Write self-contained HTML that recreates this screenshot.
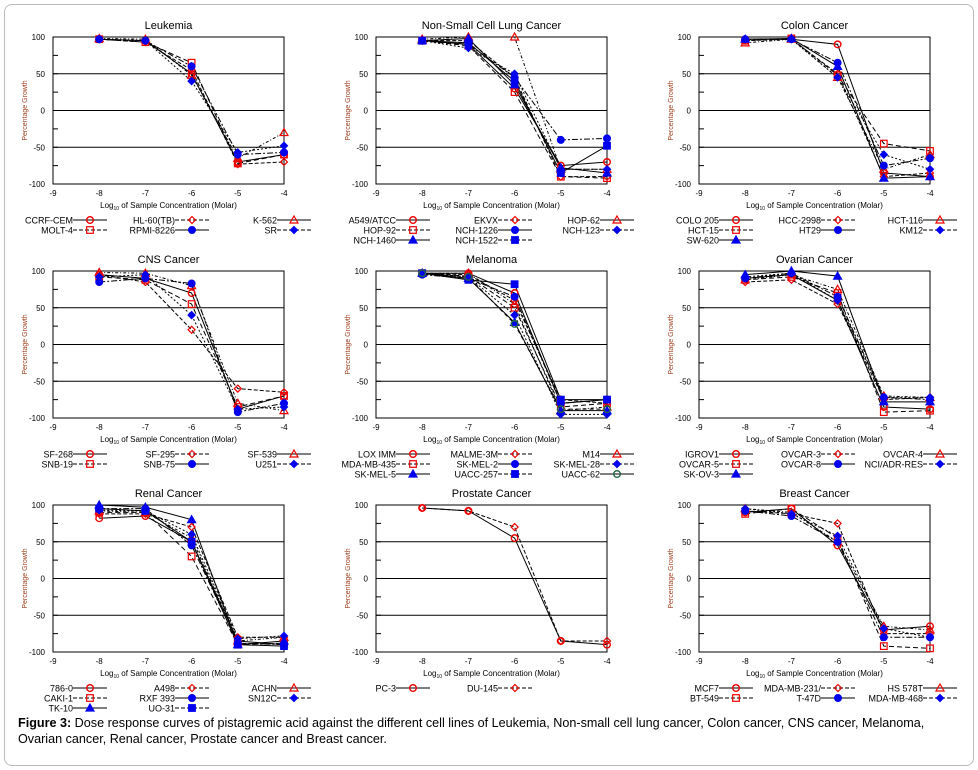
<!DOCTYPE html><html><head><meta charset="utf-8"><style>
body{margin:0;background:#fff;width:978px;height:770px;overflow:hidden;font-family:"Liberation Sans",sans-serif}
#b{position:absolute;left:4px;top:4px;width:968px;height:760px;border:1px solid #bbb;border-radius:8px}
#cap{position:absolute;left:18px;top:715px;width:945px;font-size:12.6px;line-height:16px;color:#000}
</style></head><body><div id="b"></div>
<svg id="s" width="978" height="770" style="position:absolute;left:0;top:0" font-family="Liberation Sans, sans-serif"></svg>
<div id="cap"><b>Figure 3:</b> Dose response curves of pistagremic acid against the different cell lines of Leukemia, Non-small cell lung cancer, Colon cancer, CNS cancer, Melanoma, Ovarian cancer, Renal cancer, Prostate cancer and Breast cancer.</div>
<script>
const P=[
["Leukemia",0,0,[["CCRF-CEM",[97,95,50,-70,-60]],["HL-60(TB)",[97,93,55,-73,-70]],["K-562",[98,97,48,-65,-30]],["MOLT-4",[97,93,65,-72,-60]],["RPMI-8226",[97,95,60,-60,-57]],["SR",[97,95,40,-57,-48]]]],
["Non-Small Cell Lung Cancer",1,0,[["A549/ATCC",[95,90,30,-75,-70]],["EKVX",[95,95,45,-90,-90]],["HOP-62",[97,100,100,-80,-80]],["HOP-92",[95,88,25,-90,-92]],["NCH-1226",[95,90,45,-40,-38]],["NCH-123",[95,85,50,-80,-80]],["NCH-1460",[95,98,35,-78,-85]],["NCH-1522",[95,92,40,-85,-48]]]],
["Colon Cancer",2,0,[["COLO 205",[97,97,90,-85,-90]],["HCC-2998",[95,97,50,-90,-85]],["HCT-116",[92,97,45,-80,-60]],["HCT-15",[95,98,48,-45,-55]],["HT29",[97,97,65,-75,-65]],["KM12",[97,97,45,-60,-80]],["SW-620",[97,98,60,-92,-90]]]],
["CNS Cancer",0,1,[["SF-268",[95,90,70,-88,-70]],["SF-295",[95,85,20,-60,-65]],["SF-539",[98,97,80,-80,-90]],["SNB-19",[92,88,55,-85,-70]],["SNB-75",[85,90,83,-92,-80]],["U251",[92,95,40,-88,-85]]]],
["Melanoma",1,1,[["LOX IMM",[97,97,70,-80,-75]],["MALME-3M",[97,95,60,-75,-80]],["M14",[97,97,55,-90,-85]],["MDA-MB-435",[97,93,50,-85,-80]],["SK-MEL-2",[95,90,65,-80,-75]],["SK-MEL-28",[97,92,40,-95,-95]],["SK-MEL-5",[97,90,30,-90,-90]],["UACC-257",[97,88,82,-75,-75]],["UACC-62",[97,92,28,-88,-88]]]],
["Ovarian Cancer",2,1,[["IGROV1",[90,95,60,-85,-88]],["OVCAR-3",[85,88,55,-75,-72]],["OVCAR-4",[88,95,75,-70,-72]],["OVCAR-5",[88,92,70,-92,-90]],["OVCAR-8",[90,97,65,-72,-75]],["NCI/ADR-RES",[92,97,60,-72,-72]],["SK-OV-3",[95,100,93,-78,-78]]]],
["Renal Cancer",0,2,[["786-0",[82,85,50,-85,-90]],["A498",[88,88,70,-80,-80]],["ACHN",[92,90,55,-85,-80]],["CAKI-1",[90,90,30,-90,-88]],["RXF 393",[95,95,45,-88,-90]],["SN12C",[93,92,60,-82,-78]],["TK-10",[100,97,80,-90,-85]],["UO-31",[95,92,50,-90,-92]]]],
["Prostate Cancer",1,2,[["PC-3",[96,92,55,-85,-90]],["DU-145",[96,92,70,-85,-85]]]],
["Breast Cancer",2,2,[["MCF7",[90,95,45,-70,-65]],["MDA-MB-231/",[92,88,75,-75,-75]],["HS 578T",[95,90,50,-65,-70]],["BT-549",[88,95,55,-92,-95]],["T-47D",[92,85,50,-80,-80]],["MDA-MB-468",[95,88,58,-68,-80]]]]];
const mk=['oc','od','ot','os','bc','bd','bt','bs','gc'];
function marker(t,x,y){const r=t[0]=='o'?'#e00':(t[0]=='b'?'#00e':'#264');const f=t[0]=='o'?'none':r;const sh=t[1];
if(sh=='c')return `<circle cx="${x}" cy="${y}" r="3.3" fill="${t=='gc'?'none':f}" stroke="${r}" stroke-width="1.4"/>`;
if(sh=='d')return `<path d="M${x} ${y-3.5}L${x+3.5} ${y}L${x} ${y+3.5}L${x-3.5} ${y}Z" fill="${f}" stroke="${r}" stroke-width="1.2"/>`;
if(sh=='t')return `<path d="M${x} ${y-4}L${x+4} ${y+3}L${x-4} ${y+3}Z" fill="${f}" stroke="${r}" stroke-width="1.2"/>`;
return `<rect x="${x-3.3}" y="${y-3.3}" width="6.6" height="6.6" fill="${f}" stroke="${r}" stroke-width="1.2"/>`;}
const dash=['','4,2','3,2,1,2','5,3','6,2,2,2','2,2','','','4,3'];
let h='';
P.forEach(p=>{const ox=[0,323,646][p[1]],oy=[0,234,468][p[2]];const L=53+ox,T=37+oy,W=231,H=147;
const X=v=>L+(v+9)*W/5,Y=v=>T+(100-v)*H/200;
h+=`<text x="${L+W/2}" y="${T-8}" font-size="11" text-anchor="middle">${p[0]}</text>`;
[50,0,-50].forEach(v=>h+=`<line x1="${L}" x2="${L+W}" y1="${Y(v)}" y2="${Y(v)}" stroke="#000" stroke-width="1"/>`);
h+=`<rect x="${L}" y="${T}" width="${W}" height="${H}" fill="none" stroke="#000"/>`;
[100,75,50,25,0,-25,-50,-75,-100].forEach(v=>{h+=`<line x1="${L}" x2="${L+5}" y1="${Y(v)}" y2="${Y(v)}" stroke="#000"/>`;if(v%50==0)h+=`<text x="${L-8}" y="${Y(v)+3}" font-size="8" text-anchor="end">${v}</text>`});
[-9,-8,-7,-6,-5,-4].forEach(v=>h+=`<text x="${X(v)}" y="${T+H+12}" font-size="8" text-anchor="middle">${v}</text>`);
h+=`<text x="${L+W/2}" y="${T+H+24}" font-size="8" text-anchor="middle">Log<tspan font-size="5" dy="2">10</tspan><tspan dy="-2"> of Sample Concentration (Molar)</tspan></text>`;
h+=`<text transform="translate(${L-26},${T+H/2}) rotate(-90)" font-size="7" fill="#a04020" text-anchor="middle">Percentage Growth</text>`;
p[3].forEach((s,i)=>{const pts=s[1].map((v,j)=>X(-8+j)+','+Y(v)).join(' ');h+=`<polyline points="${pts}" fill="none" stroke="#000" stroke-width="1" stroke-dasharray="${dash[i]}"/>`;});
p[3].forEach((s,i)=>{s[1].forEach((v,j)=>h+=marker(mk[i],X(-8+j),Y(v)));
const c=i%3,r=Math.floor(i/3);const ex=L+20+c*102,ey=T+H+36+r*10;
h+=`<text x="${ex}" y="${ey+3.5}" font-size="9" text-anchor="end">${s[0]}</text><line x1="${ex}" x2="${ex+34}" y1="${ey}" y2="${ey}" stroke="#555" stroke-width="1.4" stroke-dasharray="${i%2?'4,2':''}"/>`+marker(mk[i],ex+17,ey);});
});
document.getElementById('s').innerHTML=h;
</script></body></html>
